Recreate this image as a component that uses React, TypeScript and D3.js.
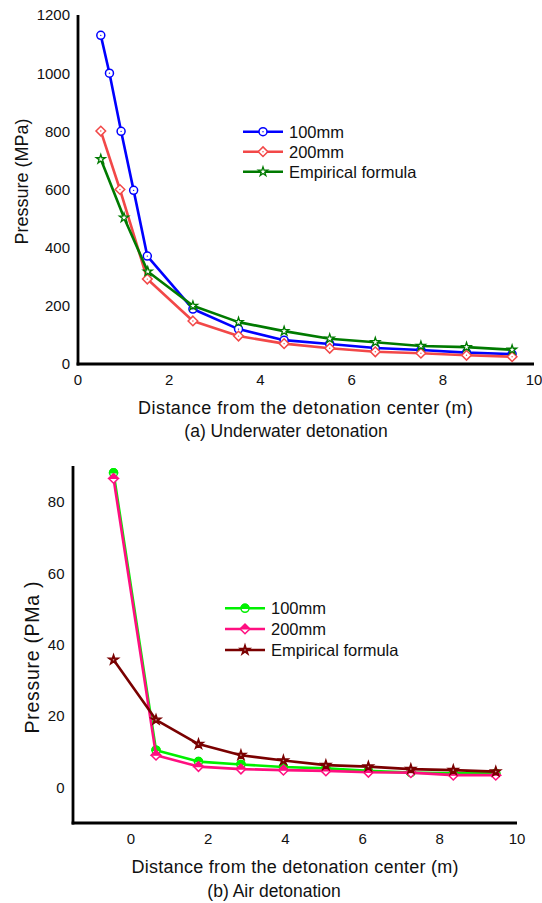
import React from "react";
import * as d3 from "d3";

// ---------- Data: (a) Underwater detonation ----------
const topX100 = [0.5, 0.69, 0.945, 1.22, 1.52, 2.52, 3.52, 4.52, 5.52, 6.52, 7.52, 8.52, 9.52];
const top100 = [1130, 1000, 800, 597, 371, 189, 120, 82, 69, 55, 48, 39, 34];
const topX200 = [0.5, 0.92, 1.52, 2.52, 3.52, 4.52, 5.52, 6.52, 7.52, 8.52, 9.52];
const top200 = [801, 600, 292, 148, 96, 70, 54, 42, 37, 30, 25];
const topXEmp = [0.5, 1.01, 1.53, 2.52, 3.52, 4.52, 5.52, 6.52, 7.52, 8.52, 9.52];
const topEmp = [704, 503, 318, 200, 144, 113, 87, 75, 62, 58, 49];
const topXTicks = [0, 2, 4, 6, 8, 10];
const topYTicks = [0, 200, 400, 600, 800, 1000, 1200];

// ---------- Data: (b) Air detonation ----------
const botX = [-0.45, 0.65, 1.75, 2.85, 3.95, 5.05, 6.15, 7.25, 8.35, 9.45];
const bot100 = [88.1, 10.4, 7.2, 6.4, 5.7, 5.3, 4.6, 4.1, 3.9, 3.9];
const bot200 = [86.5, 9.0, 5.8, 5.1, 4.8, 4.6, 4.2, 4.1, 3.4, 3.4];
const botEmp = [35.7, 18.9, 12.1, 9.0, 7.5, 6.2, 5.8, 5.1, 4.8, 4.4];
const botXTicks = [0, 2, 4, 6, 8, 10];
const botYTicks = [0, 20, 40, 60, 80];

const legendNames = ["100mm", "200mm", "Empirical formula"];

const FONT = "'Liberation Sans', Arial, Helvetica, sans-serif";

type Marker = "circle" | "diamond" | "star";

function MarkerShape({ kind, x, y, color, half, filledStar }: { kind: Marker; x: number; y: number; color: string; half?: boolean; filledStar?: boolean }) {
  if (kind === "circle") {
    const r = 4;
    return (
      <g transform={`translate(${x},${y})`}>
        <circle r={r} fill="#fff" stroke={color} strokeWidth={1.5} />
        {half ? <path d={`M${-r},0A${r},${r} 0 0 1 ${r},0Z`} fill={color} stroke={color} strokeWidth={1.5} /> : <circle r={0.7} fill={color} />}
      </g>
    );
  }
  if (kind === "diamond") {
    const s = 4.8;
    return (
      <g transform={`translate(${x},${y})`}>
        <path d={`M0,${-s}L${s},0L0,${s}L${-s},0Z`} fill="#fff" stroke={color} strokeWidth={1.5} />
        {half ? <path d={`M${-s},0L0,${-s}L${s},0Z`} fill={color} stroke={color} strokeWidth={1.2} /> : <circle r={0.7} fill={color} />}
      </g>
    );
  }
  const star = d3.symbol().type(d3.symbolStar).size(filledStar ? 32 : 26)() as string;
  return (
    <g transform={`translate(${x},${y})`}>
      <path d={star} fill={filledStar ? color : "#fff"} stroke={color} strokeWidth={1.3} />
      {filledStar ? <circle r={0.8} fill="#fff" opacity={0.6} /> : null}
    </g>
  );
}

type Series = { xs: number[]; ys: number[]; color: string; marker: Marker; half?: boolean; filledStar?: boolean };

function Panel(props: {
  xDomain: [number, number];
  yDomain: [number, number];
  xRange: [number, number];
  yRange: [number, number];
  xTicks: number[];
  yTicks: number[];
  series: Series[];
  xTickBaseline: number;
  yTickRight: number;
  yLabel: string;
  yLabelX: number;
  yLabelY: number;
  yLabelSize: number;
  yLabelLen?: number;
  xTitleY: number;
  xTitleX: number;
  xTitleLen: number;
  subTitle: string;
  subTitleX: number;
  subTitleY: number;
  legendX: number;
  legendYs: number[];
}) {
  const x = d3.scaleLinear().domain(props.xDomain).range(props.xRange);
  const y = d3.scaleLinear().domain(props.yDomain).range(props.yRange);
  const line = d3.line<[number, number]>().x((d) => x(d[0])).y((d) => y(d[1]));
  const [x0, x1] = props.xRange;
  const [yb, yt] = props.yRange;
  return (
    <g fontFamily={FONT}>
      {props.series.map((s, i) => (
        <g key={i}>
          <path d={line(s.xs.map((v, j) => [v, s.ys[j]] as [number, number])) as string} fill="none" stroke={s.color} strokeWidth={2.6} strokeLinejoin="round" />
          {s.xs.map((v, j) => (
            <MarkerShape key={j} kind={s.marker} x={x(v)} y={y(s.ys[j])} color={s.color} half={s.half} filledStar={s.filledStar} />
          ))}
        </g>
      ))}
      {/* axes */}
      <line x1={x0} x2={x0} y1={yb + 1.4} y2={yt} stroke="#000" strokeWidth={2.8} />
      <line x1={x0 - 1.4} x2={x1} y1={yb} y2={yb} stroke="#000" strokeWidth={2.8} />
      {props.xTicks.map((t) => (
        <text key={t} x={x(t)} y={props.xTickBaseline} fontSize={15} textAnchor="middle" fill="#111">
          {t}
        </text>
      ))}
      {props.yTicks.map((t) => (
        <text key={t} x={props.yTickRight} y={y(t)} dy="0.36em" fontSize={15} textAnchor="end" fill="#111">
          {t}
        </text>
      ))}
      <text
        transform={`translate(${props.yLabelX},${props.yLabelY}) rotate(-90)`}
        fontSize={props.yLabelSize}
        textAnchor="middle"
        fill="#111"
        {...(props.yLabelLen ? { textLength: props.yLabelLen, lengthAdjust: "spacing" } : {})}
      >
        {props.yLabel}
      </text>
      <text x={props.xTitleX} y={props.xTitleY} fontSize={18} textAnchor="middle" fill="#111" textLength={props.xTitleLen} lengthAdjust="spacing">
        Distance from the detonation center (m)
      </text>
      <text x={props.subTitleX} y={props.subTitleY} fontSize={17.5} textAnchor="middle" fill="#111">
        {props.subTitle}
      </text>
      {/* legend */}
      {props.series.map((s, i) => (
        <g key={"lg" + i}>
          <line x1={props.legendX} x2={props.legendX + 40} y1={props.legendYs[i]} y2={props.legendYs[i]} stroke={s.color} strokeWidth={2.6} />
          <MarkerShape kind={s.marker} x={props.legendX + 20} y={props.legendYs[i]} color={s.color} half={s.half} filledStar={s.filledStar} />
          <text x={props.legendX + 46} y={props.legendYs[i]} dy="0.36em" fontSize={16.5} fill="#111">
            {legendNames[i]}
          </text>
        </g>
      ))}
    </g>
  );
}

export default function App() {
  return (
    <svg width={542} height={903} style={{ position: "absolute", left: 0, top: 0, background: "#fff" }}>
      <rect width={542} height={903} fill="#fff" />
      <Panel
        xDomain={[0, 10]}
        yDomain={[0, 1200]}
        xRange={[78, 534]}
        yRange={[364, 15]}
        xTicks={topXTicks}
        yTicks={topYTicks}
        series={[
          { xs: topX100, ys: top100, color: "#0000ff", marker: "circle" },
          { xs: topX200, ys: top200, color: "#f24848", marker: "diamond" },
          { xs: topXEmp, ys: topEmp, color: "#007a00", marker: "star" },
        ]}
        xTickBaseline={385}
        yTickRight={70}
        yLabel="Pressure (MPa)"
        yLabelX={28}
        yLabelY={181.5}
        yLabelSize={18}
        xTitleX={305.5}
        xTitleY={414}
        xTitleLen={335}
        subTitle="(a) Underwater detonation"
        subTitleX={286}
        subTitleY={437}
        legendX={243}
        legendYs={[131.7, 151.7, 171.7]}
      />
      <Panel
        xDomain={[-1.5, 10]}
        yDomain={[-10, 90]}
        xRange={[73, 517]}
        yRange={[823, 466]}
        xTicks={botXTicks}
        yTicks={botYTicks}
        series={[
          { xs: botX, ys: bot100, color: "#00f000", marker: "circle", half: true },
          { xs: botX, ys: bot200, color: "#ff0f80", marker: "diamond", half: true },
          { xs: botX, ys: botEmp, color: "#7a0000", marker: "star", filledStar: true },
        ]}
        xTickBaseline={844}
        yTickRight={64.5}
        yLabel="Pressure (PMa )"
        yLabelX={38.5}
        yLabelY={657.5}
        yLabelSize={19.5}
        yLabelLen={152}
        xTitleX={295}
        xTitleY={873}
        xTitleLen={327}
        subTitle="(b) Air detonation"
        subTitleX={274}
        subTitleY={897}
        legendX={225}
        legendYs={[608.3, 629, 650]}
      />
    </svg>
  );
}
